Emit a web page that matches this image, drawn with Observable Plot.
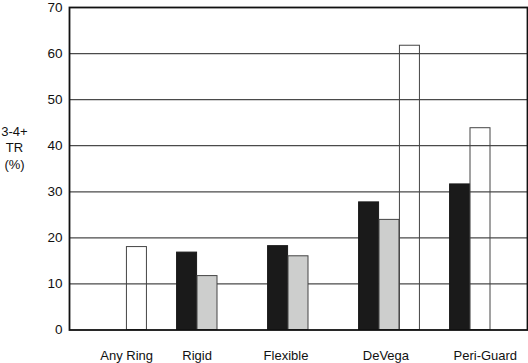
<!DOCTYPE html>
<html>
<head>
<meta charset="utf-8">
<script src="https://cdn.jsdelivr.net/npm/d3@7"></script>
<script src="https://cdn.jsdelivr.net/npm/@observablehq/plot@0.6"></script>
<style>
  html, body { margin: 0; padding: 0; background: #fff; }
  svg { display: block; }
</style>
</head>
<body>
<div id="chart"></div>
<script>
// ---- data ----
const groups = ["Any Ring", "Rigid", "Flexible", "DeVega", "Peri-Guard"];
const blackValues = [null, 16.8, 18.2, 27.7, 31.6];
const grayValues  = [null, 11.7, 16.0, 23.9, null];
const whiteValues = [18.0, null, null, 61.7, 43.8];
const yTicks = [0, 10, 20, 30, 40, 50, 60, 70];
const yTitle = "3-4+\nTR\n(%)";

// ---- layout / style ----
const W = 528, H = 363;
const mL = 69, mR = 1, mT = 7, mB = 33.5;
const padInner = 0.777;
const step = (W - mL - mR) / groups.length;
const bw = step * (1 - padInner);
// slot of the white bar within each group (1 = right, 0 = middle)
const whiteSlot = {"Any Ring": 1, "DeVega": 1, "Peri-Guard": 0};
const labelNudge = {"Any Ring": 10.2, "Rigid": -10.4, "Flexible": -12.5, "DeVega": -3.6, "Peri-Guard": 4.8};

const rows = (vals) => groups.map((g, i) => ({group: g, value: vals[i]})).filter(d => d.value != null);
const black = rows(blackValues);
const gray = rows(grayValues);
const white = rows(whiteValues);

const font = "'Liberation Sans', Arial, Helvetica, sans-serif";

const marks = [
  Plot.ruleY(yTicks.filter(t => t > 0 && t < 70), {stroke: "#4a4a4a", strokeWidth: 1.2}),
  Plot.barY(black, {x: "group", y: "value", fill: "#1a1a1a", stroke: "#1a1a1a", strokeWidth: 1, dx: -bw}),
  Plot.barY(gray, {x: "group", y: "value", fill: "#cdcecd", stroke: "#444", strokeWidth: 1}),
  Plot.barY(white.filter(d => whiteSlot[d.group] === 1), {x: "group", y: "value", fill: "none", stroke: "#444", strokeWidth: 1, dx: bw}),
  Plot.barY(white.filter(d => whiteSlot[d.group] === 0), {x: "group", y: "value", fill: "none", stroke: "#444", strokeWidth: 1}),
  Plot.frame({stroke: "#111", strokeWidth: 1.8}),
  Plot.axisY({ticks: yTicks, tickSize: 0, tickPadding: 7, fontSize: 13.5, label: null, tickFormat: d => String(d)}),
  ...groups.map(g => Plot.text([g], {x: d => d, text: d => d, frameAnchor: "bottom", lineAnchor: "top", dy: 21, dx: labelNudge[g], fontSize: 13, fill: "#111"})),
  Plot.text([yTitle], {text: d => d, frameAnchor: "left", textAnchor: "middle", dx: -55, dy: -22, lineHeight: 1.27, fontSize: 13, fill: "#111"})
];

const chart = Plot.plot({
  width: W,
  height: H,
  marginLeft: mL,
  marginRight: mR,
  marginTop: mT,
  marginBottom: mB,
  style: {fontFamily: font, background: "#fff", color: "#111", fontSize: "13px", overflow: "visible"},
  x: {domain: groups, paddingInner: padInner, paddingOuter: padInner / 2, axis: null, label: null},
  y: {domain: [0, 70], axis: null, label: null},
  marks
});
document.getElementById("chart").appendChild(chart);
</script>
</body>
</html>
